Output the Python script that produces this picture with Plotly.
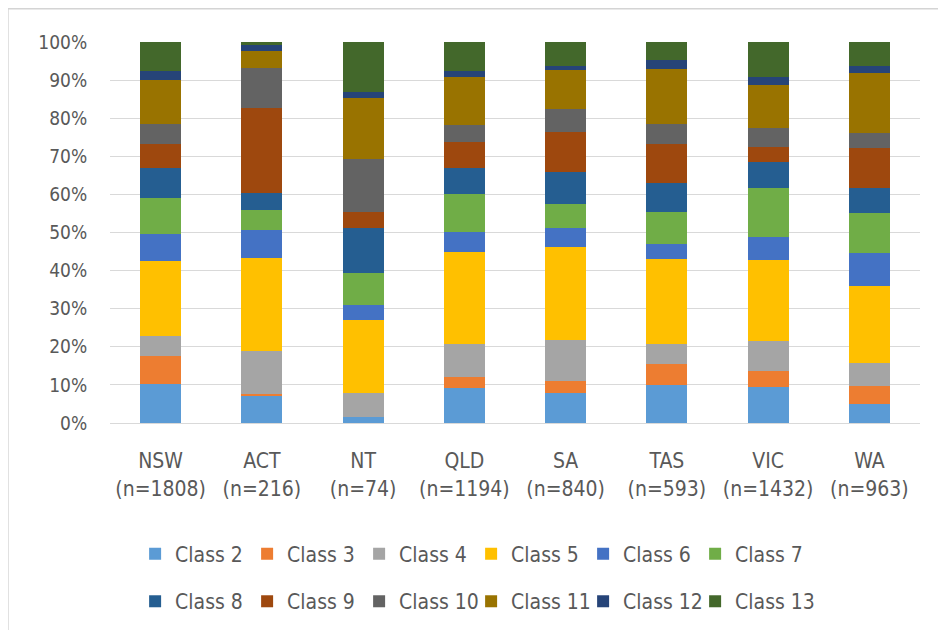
import plotly.graph_objects as go

states = ["NSW", "ACT", "NT", "QLD", "SA", "TAS", "VIC", "WA"]
counts = [1808, 216, 74, 1194, 840, 593, 1432, 963]
classes = ["Class 2", "Class 3", "Class 4", "Class 5", "Class 6", "Class 7",
           "Class 8", "Class 9", "Class 10", "Class 11", "Class 12", "Class 13"]

# percentage share of each class per state (order of states above)
class2 = [10.3, 7.2, 1.5, 9.3, 8.0, 10.0, 9.4, 5.0]
class3 = [7.3, 0.4, 0.0, 2.7, 2.9, 5.5, 4.3, 4.8]
class4 = [5.3, 11.4, 6.5, 8.7, 10.9, 5.2, 7.9, 5.9]
class5 = [19.5, 24.4, 19.1, 24.1, 24.5, 22.3, 21.2, 20.3]
class6 = [7.2, 7.3, 3.9, 5.4, 4.8, 4.0, 6.1, 8.5]
class7 = [9.5, 5.2, 8.5, 9.8, 6.3, 8.5, 12.7, 10.5]
class8 = [7.7, 4.6, 11.8, 6.8, 8.5, 7.4, 7.0, 6.8]
class9 = [6.3, 22.2, 4.2, 7.0, 10.5, 10.3, 3.9, 10.3]
class10 = [5.3, 10.5, 13.7, 4.5, 6.0, 5.2, 5.0, 3.9]
class11 = [11.6, 4.4, 16.0, 12.4, 10.2, 14.6, 11.3, 15.9]
class12 = [2.4, 1.5, 1.7, 1.7, 1.1, 2.4, 2.0, 1.7]
class13 = [7.6, 0.9, 13.1, 7.6, 6.3, 4.6, 9.2, 6.4]

series = [class2, class3, class4, class5, class6, class7,
          class8, class9, class10, class11, class12, class13]
colors = ["#5B9BD5", "#ED7D31", "#A5A5A5", "#FFC000", "#4472C4", "#70AD47",
          "#255E91", "#9E480E", "#636363", "#997300", "#264478", "#43682B"]

labels = [f"{s}<br>(n={n})" for s, n in zip(states, counts)]

fig = go.Figure()
for i, (name, vals, col) in enumerate(zip(classes, series, colors)):
    fig.add_trace(go.Bar(x=labels, y=vals, name=name, marker_color=col,
                         marker_line_width=0,
                         legend="legend" if i < 6 else "legend2"))

# invisible spacer entries so the last legend item is not clipped
for lg in ["legend", "legend2"]:
    fig.add_trace(go.Scatter(x=[labels[0]], y=[None], mode="lines", name=" ",
                             line=dict(width=0, color="rgba(0,0,0,0)"),
                             hoverinfo="skip", legend=lg, showlegend=True))

font_family = "DejaVu Sans Condensed, Liberation Sans, sans-serif"
legend_common = dict(orientation="h", xanchor="left", yanchor="top",
                     font=dict(size=21), entrywidth=67, entrywidthmode="pixels",
                     traceorder="normal", itemwidth=30, bgcolor="rgba(0,0,0,0)")
fig.update_layout(
    barmode="stack",
    barnorm="percent",
    bargap=0.595,
    width=946, height=630,
    margin=dict(l=102, r=34, t=34, b=215, autoexpand=False),
    paper_bgcolor="white", plot_bgcolor="white",
    font=dict(family=font_family, size=21, color="#595959"),
    xaxis=dict(showgrid=False, showline=True, linecolor="#D9D9D9", linewidth=1,
               ticks="outside", ticklen=19, tickcolor="rgba(0,0,0,0)",
               tickfont=dict(size=21), automargin=False),
    yaxis=dict(range=[0, 100], dtick=10, ticksuffix="%", showgrid=True,
               gridcolor="#D9D9D9", gridwidth=1, zeroline=False,
               ticks="outside", ticklen=18, tickcolor="rgba(0,0,0,0)",
               tickfont=dict(size=19), automargin=False),
    legend=dict(x=0.031, y=-0.29, **legend_common),
    legend2=dict(x=0.031, y=-0.415, **legend_common),
    shapes=[dict(type="rect", xref="paper", yref="paper",
                 x0=-0.126, x1=1.2, y0=-0.7, y1=1.087,
                 line=dict(color="#D4D4D4", width=1.5))],
)

fig.write_html("out.html")
